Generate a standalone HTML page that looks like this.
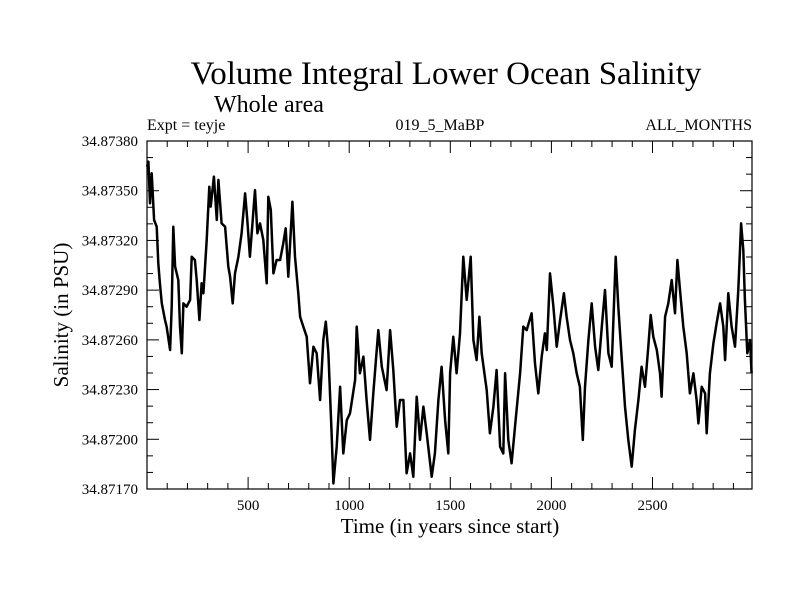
<!DOCTYPE html>
<html><head><meta charset="utf-8"><style>
body{margin:0;background:#fff}
svg{display:block;font-family:"Liberation Serif",serif}
</style></head><body>
<svg id="chart" width="800" height="600">
<rect width="800" height="600" fill="#fff"/>
<text x="446" y="84" font-size="33" text-anchor="middle">Volume Integral Lower Ocean Salinity</text>
<text x="269" y="112" font-size="24" text-anchor="middle">Whole area</text>
<text x="147" y="130" font-size="16">Expt = teyje</text>
<text x="440" y="130" font-size="16" text-anchor="middle">019_5_MaBP</text>
<text x="752" y="130" font-size="16" text-anchor="end">ALL_MONTHS</text>
<text x="450" y="533" font-size="21" text-anchor="middle">Time (in years since start)</text>
<text transform="translate(68,315) rotate(-90)" font-size="21" text-anchor="middle">Salinity (in PSU)</text>
<g id="axes"></g>
<path id="series" fill="none" stroke="#000" stroke-width="2.5" stroke-linejoin="round"/>
<rect x="147" y="141" width="605" height="348" fill="none" stroke="#000" stroke-width="1.2"/>
</svg>
<script>
const years=[0,7,15,23,35,48,56,64,73,89,97,114,122,130,139,155,163,172,180,196,213,221,237,246,259,270,279,295,308,315,331,345,353,369,386,402,411,424,435,452,468,485,496,509,534,546,559,575,592,600,612,625,641,658,674,686,699,719,732,748,757,773,790,806,823,839,856,872,884,897,913,922,938,955,971,988,1004,1029,1037,1053,1070,1086,1103,1119,1144,1161,1185,1202,1218,1235,1251,1268,1284,1301,1317,1334,1350,1367,1383,1408,1424,1441,1457,1474,1490,1499,1515,1531,1548,1564,1581,1601,1614,1630,1644,1655,1680,1696,1713,1729,1746,1762,1771,1787,1803,1820,1845,1861,1878,1902,1919,1935,1952,1968,1977,1993,2010,2026,2043,2062,2075,2092,2108,2125,2141,2155,2166,2183,2199,2216,2232,2249,2265,2282,2298,2318,2331,2347,2364,2380,2397,2413,2430,2446,2463,2479,2491,2504,2521,2537,2545,2562,2578,2595,2611,2623,2636,2652,2669,2685,2702,2718,2727,2743,2760,2768,2784,2801,2817,2834,2850,2859,2875,2891,2908,2924,2938,2949,2957,2969,2982,2990];
const salinity=[34.873645,34.873675,34.873424,34.873605,34.873323,34.873283,34.873062,34.872941,34.872820,34.872720,34.872680,34.872539,34.872800,34.873283,34.873042,34.872961,34.872680,34.872519,34.872820,34.872800,34.872841,34.873102,34.873082,34.872961,34.872720,34.872941,34.872881,34.873203,34.873524,34.873404,34.873585,34.873323,34.873565,34.873303,34.873283,34.873042,34.872981,34.872820,34.873001,34.873102,34.873243,34.873484,34.873323,34.873102,34.873504,34.873243,34.873303,34.873203,34.872941,34.873464,34.873384,34.873001,34.873082,34.873082,34.873183,34.873273,34.872981,34.873434,34.873102,34.872881,34.872740,34.872680,34.872619,34.872338,34.872559,34.872519,34.872237,34.872599,34.872710,34.872519,34.872036,34.871734,34.871955,34.872317,34.871915,34.872116,34.872157,34.872358,34.872680,34.872398,34.872499,34.872237,34.871996,34.872277,34.872659,34.872438,34.872297,34.872659,34.872418,34.872076,34.872237,34.872237,34.871795,34.871915,34.871774,34.872257,34.871996,34.872197,34.872036,34.871774,34.871915,34.872237,34.872438,34.872116,34.871915,34.872398,34.872619,34.872398,34.872639,34.873102,34.872841,34.873102,34.872599,34.872478,34.872740,34.872519,34.872297,34.872036,34.872197,34.872418,34.871955,34.871915,34.872398,34.871996,34.871855,34.872076,34.872398,34.872680,34.872659,34.872760,34.872458,34.872277,34.872499,34.872639,34.872539,34.873001,34.872800,34.872559,34.872720,34.872881,34.872740,34.872599,34.872519,34.872398,34.872317,34.871996,34.872317,34.872599,34.872820,34.872559,34.872418,34.872680,34.872901,34.872519,34.872438,34.873102,34.872800,34.872499,34.872197,34.871996,34.871835,34.872056,34.872237,34.872438,34.872317,34.872559,34.872750,34.872619,34.872539,34.872398,34.872257,34.872740,34.872820,34.872961,34.872760,34.873082,34.872901,34.872680,34.872519,34.872277,34.872398,34.872237,34.872096,34.872317,34.872277,34.872036,34.872398,34.872579,34.872700,34.872820,34.872680,34.872478,34.872881,34.872680,34.872559,34.872901,34.873303,34.873142,34.872841,34.872519,34.872599,34.872398];
const xTicks=[500,1000,1500,2000,2500];
const yTicks=[34.8717,34.8720,34.8723,34.8726,34.8729,34.8732,34.8735,34.8738];
const yLabels=["34.87170","34.87200","34.87230","34.87260","34.87290","34.87320","34.87350","34.87380"];
const L=147,R=752,T=141,B=489,X0=0,X1=2992,Y0=34.8717,Y1=34.8738;
const xs=v=>L+(v-X0)/(X1-X0)*(R-L);
const ys=v=>B-(v-Y0)/(Y1-Y0)*(B-T);
const NS="http://www.w3.org/2000/svg";
const ax=document.getElementById('axes');
function line(x1,y1,x2,y2,name){const l=document.createElementNS(NS,'line');l.setAttribute('x1',x1);l.setAttribute('y1',y1);l.setAttribute('x2',x2);l.setAttribute('y2',y2);l.setAttribute('stroke','#000');l.setAttribute('stroke-width','1');


ax.appendChild(l);}
function txt(x,y,s,anchor,name){const t=document.createElementNS(NS,'text');t.setAttribute('x',x);t.setAttribute('y',y);t.setAttribute('font-size','15');t.setAttribute('text-anchor',anchor);t.textContent=s;


ax.appendChild(t);}
for(let v=100;v<X1;v+=100){const x=xs(v);const major=v%500===0;const len=major?12:6;line(x,B,x,B-len,'x-tick');line(x,T,x,T+len,'x-tick-top');}
xTicks.forEach(v=>txt(xs(v),B+21,String(v),'middle','x-tick-label'));
for(let i=0;i<yTicks.length;i++){const y=ys(yTicks[i]);line(L,y,L+12,y,'y-tick');line(R,y,R-12,y,'y-tick-right');
txt(L-9,y+5,yLabels[i],'end','y-tick-label');
if(i<yTicks.length-1){for(let k=1;k<3;k++){const ym=ys(yTicks[i]+k*0.0001);line(L,ym,L+6,ym,'y-minor-tick');line(R,ym,R-6,ym,'y-minor-tick-right');}}}
let d='';years.forEach((yr,i)=>{d+=(i?'L':'M')+xs(yr).toFixed(1)+','+ys(salinity[i]).toFixed(1);});
document.getElementById('series').setAttribute('d',d);
</script>
</body></html>
